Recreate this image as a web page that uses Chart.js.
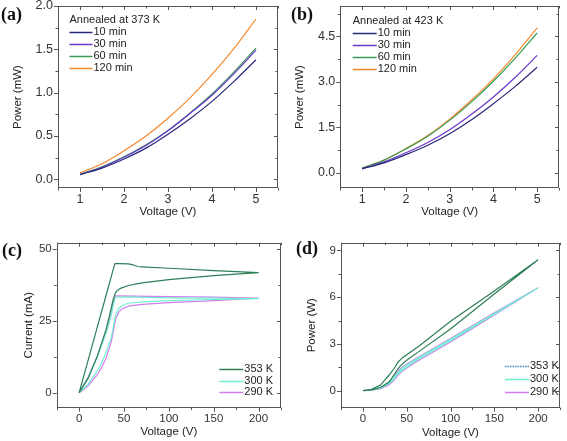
<!DOCTYPE html>
<html>
<head>
<meta charset="utf-8">
<script src="https://cdn.jsdelivr.net/npm/chart.js@4.4.0/dist/chart.umd.min.js"></script>
<style>
  html, body { margin: 0; padding: 0; background: #fff; }
  #page { position: relative; width: 567px; height: 441px; overflow: hidden; }
  canvas { position: absolute; }
  .tag { position: absolute; font: bold 18px "Liberation Serif", "Times New Roman", serif; color: #111; line-height: 1; }
</style>
</head>
<body>
<div id="page">
  <canvas id="ca" width="283" height="222" style="left:0;top:0"></canvas>
  <canvas id="cb" width="284" height="222" style="left:283px;top:0"></canvas>
  <canvas id="cc" width="283" height="219" style="left:0;top:222px"></canvas>
  <canvas id="cd" width="284" height="219" style="left:283px;top:222px"></canvas>
  <div class="tag" style="left:1px;top:5px">(a)</div>
  <div class="tag" style="left:291px;top:5px">(b)</div>
  <div class="tag" style="left:2px;top:241px">(c)</div>
  <div class="tag" style="left:296px;top:239px">(d)</div>
</div>
<script>
// top panels: power vs voltage after annealing
const voltTop = [1, 1.5, 2, 2.5, 3, 3.5, 4, 4.5, 5];
const powA10 = [0.055, 0.13, 0.235, 0.36, 0.52, 0.70, 0.90, 1.13, 1.38];
const powA30 = [0.055, 0.14, 0.255, 0.39, 0.56, 0.76, 0.97, 1.22, 1.49];
const powA60 = [0.058, 0.145, 0.26, 0.40, 0.565, 0.765, 0.985, 1.24, 1.515];
const powA120 = [0.075, 0.18, 0.33, 0.50, 0.705, 0.94, 1.21, 1.51, 1.85];
const powB10 = [0.13, 0.33, 0.60, 0.91, 1.29, 1.75, 2.28, 2.85, 3.48];
const powB30 = [0.14, 0.36, 0.66, 1.00, 1.42, 1.93, 2.50, 3.15, 3.87];
const powB60 = [0.16, 0.42, 0.79, 1.21, 1.73, 2.34, 3.02, 3.78, 4.61];
const powB120 = [0.16, 0.42, 0.80, 1.23, 1.77, 2.40, 3.10, 3.90, 4.78];
const annealLabels = ['10 min', '30 min', '60 min', '120 min'];

// bottom panels: sweep up then back down (hysteresis loops)
const curV353 = [0, 10, 20, 30, 38, 40, 45, 55, 60, 65, 70, 100, 150, 200, 150, 100, 70, 55, 46, 42, 40, 38, 35, 30, 20, 10, 0];
const curI353 = [0, 11.3, 22.6, 33.9, 43, 45, 45, 44.9, 44.6, 44, 43.9, 43.4, 42.6, 41.9, 40.8, 39.4, 38.3, 37.4, 36.4, 35.5, 34.5, 32.5, 28.5, 22, 12.5, 5, 0];
const curV300 = [0, 10, 20, 30, 35, 38, 40, 42, 60, 100, 150, 200, 150, 100, 70, 55, 48, 44, 41, 39, 36, 30, 25, 20, 10, 0];
const curI300 = [0, 5.3, 12.3, 20.8, 26, 30.5, 33, 33.3, 33.3, 33.1, 33, 32.8, 32.5, 32.1, 31.7, 31.2, 30.4, 29.3, 27.5, 24.5, 19.5, 14, 10.3, 7.5, 3, 0];
const curV290 = [0, 10, 20, 30, 35, 38, 40, 42, 60, 100, 150, 200, 150, 100, 70, 55, 48, 44, 41, 39, 36, 30, 25, 20, 10, 0];
const curI290 = [0, 5.5, 12.6, 21.3, 26.5, 31, 33.8, 33.8, 33.7, 33.5, 33.3, 33, 32.1, 31.4, 30.8, 30.2, 29.3, 28, 26, 23, 18, 12, 8.8, 6.2, 2.4, 0];

const powV353 = [0, 10, 20, 30, 36, 40, 45, 50, 65, 100, 150, 200, 150, 100, 65, 50, 43, 40, 36, 30, 20, 10, 0];
const powW353 = [0, 0.08, 0.35, 1.0, 1.45, 1.82, 2.1, 2.3, 2.9, 4.45, 6.4, 8.4, 6.2, 3.95, 2.55, 1.95, 1.6, 1.4, 1.05, 0.55, 0.2, 0.04, 0];
const powV300 = [0, 10, 20, 30, 36, 40, 45, 60, 100, 150, 200, 150, 100, 60, 45, 40, 35, 30, 20, 10, 0];
const powW300 = [0, 0.04, 0.2, 0.55, 0.9, 1.15, 1.45, 2.0, 3.3, 4.95, 6.6, 4.9, 3.2, 1.9, 1.32, 1.05, 0.7, 0.45, 0.15, 0.03, 0];
const powV290 = [0, 10, 20, 30, 36, 40, 45, 60, 100, 150, 200, 150, 100, 60, 45, 40, 35, 30, 20, 10, 0];
const powW290 = [0, 0.04, 0.2, 0.56, 0.95, 1.25, 1.52, 2.05, 3.35, 5.0, 6.6, 4.85, 3.12, 1.82, 1.25, 0.98, 0.62, 0.38, 0.12, 0.02, 0];
const tempLabels = ['353 K', '300 K', '290 K'];

// tick labels
const ticksTopX = [1, 2, 3, 4, 5];
const ticksAY = [0, 0.5, 1, 1.5, 2];
const ticksBY = [0, 1.5, 3, 4.5];
const ticksBotX = [0, 50, 100, 150, 200];
const ticksCY = [0, 25, 50];
const ticksDY = [0, 3, 6, 9];

const annealColors = ['#28287a', '#6a38cc', '#3a9a55', '#f5892e'];
const tempColors = ['#2d7f57', '#6ff0d0', '#d27cf0'];
const FONT = '"Liberation Sans", Arial, sans-serif';

const pairs = (xs, ys) => xs.map((x, i) => ({ x: x, y: ys[i] }));

// box round the plot with ticks on all four sides (out on left/bottom, in on top/right)
const frame = {
  id: 'frame',
  afterDatasetsDraw(chart, args, o) {
    const { ctx, chartArea: a, scales: { x, y } } = chart;
    const isMajor = (v, m) => Math.abs(v / m - Math.round(v / m)) < 1e-6;
    ctx.save();
    ctx.strokeStyle = '#555';
    ctx.lineWidth = 1;
    ctx.strokeRect(Math.round(a.left) + 0.5, Math.round(a.top) + 0.5, Math.round(a.width) - 1, Math.round(a.height) - 1);
    ctx.beginPath();
    for (let v = Math.ceil(x.min / o.xMinor) * o.xMinor; v <= x.max + 1e-9; v += o.xMinor) {
      const px = Math.round(x.getPixelForValue(v)) + 0.5;
      const len = isMajor(v, o.xMajor) ? 4 : 2.5;
      ctx.moveTo(px, a.bottom); ctx.lineTo(px, a.bottom + len);
      ctx.moveTo(px, a.top); ctx.lineTo(px, a.top + len);
    }
    for (let v = Math.ceil(y.min / o.yMinor) * o.yMinor; v <= y.max + 1e-9; v += o.yMinor) {
      const py = Math.round(y.getPixelForValue(v)) + 0.5;
      const len = isMajor(v, o.yMajor) ? 4 : 2.5;
      ctx.moveTo(a.left, py); ctx.lineTo(a.left - len, py);
      ctx.moveTo(a.right, py); ctx.lineTo(a.right - len, py);
    }
    ctx.stroke();
    ctx.restore();
  }
};

// small legend inside the plot area
const miniLegend = {
  id: 'miniLegend',
  afterDraw(chart, args, o) {
    const { ctx, chartArea: a } = chart;
    const x0 = a.left + o.dx;
    let yy = a.top + o.dy;
    ctx.save();
    ctx.font = o.size + 'px ' + FONT;
    ctx.fillStyle = '#222';
    ctx.textBaseline = 'middle';
    if (o.title) {
      ctx.fillText(o.title, x0, yy);
      yy += o.gap;
    }
    chart.data.datasets.forEach(ds => {
      ctx.strokeStyle = ds.legendColor || ds.borderColor;
      ctx.lineWidth = 1.5;
      ctx.setLineDash(ds.legendDash || []);
      ctx.beginPath();
      ctx.moveTo(x0, Math.round(yy) + 0.5);
      ctx.lineTo(x0 + o.line, Math.round(yy) + 0.5);
      ctx.stroke();
      ctx.fillText(ds.label, x0 + o.line + 1, yy);
      yy += o.gap;
    });
    ctx.restore();
  }
};

function makeChart(id, datasets, c) {
  const tickFont = { family: FONT, size: c.tickSize };
  const titleFont = { family: FONT, size: 11.5 };
  return new Chart(document.getElementById(id), {
    type: 'line',
    data: { datasets: datasets },
    options: {
      responsive: false,
      animation: false,
      layout: { padding: c.pad },
      elements: { point: { radius: 0 }, line: { borderWidth: 1.2 } },
      plugins: {
        legend: { display: false },
        tooltip: { enabled: false },
        frame: c.frame,
        miniLegend: c.legend
      },
      scales: {
        x: {
          type: 'linear', min: c.xMin, max: c.xMax,
          afterBuildTicks: s => { s.ticks = c.xTicks.map(v => ({ value: v })); },
          afterFit: s => { s.height = c.xH; s.paddingLeft = 0; s.paddingRight = 0; },
          ticks: { font: tickFont, color: '#333', padding: 4, maxRotation: 0, autoSkip: false, callback: v => String(v) },
          grid: { display: false, drawTicks: false },
          border: { display: false },
          title: { display: true, text: 'Voltage (V)', font: titleFont, color: '#222', padding: { top: 0, bottom: c.xTitlePad } }
        },
        y: {
          type: 'linear', min: c.yMin, max: c.yMax,
          afterBuildTicks: s => { s.ticks = c.yTicks.map(v => ({ value: v })); },
          afterFit: s => { s.width = c.yW; s.paddingTop = 0; s.paddingBottom = 0; },
          ticks: { font: tickFont, color: '#333', padding: 5, autoSkip: false, callback: v => v.toFixed(c.yDec) },
          grid: { display: false, drawTicks: false },
          border: { display: false },
          title: { display: true, text: c.yTitle, font: titleFont, color: '#222', padding: { top: c.yTitlePad, bottom: 0 } }
        }
      }
    },
    plugins: [frame, miniLegend]
  });
}

const lineSets = (vals, xs) => vals.map((ys, i) => ({
  label: annealLabels[i], data: pairs(xs, ys), borderColor: annealColors[i],
  cubicInterpolationMode: 'monotone'
}));

makeChart('ca', lineSets([powA10, powA30, powA60, powA120], voltTop), {
  pad: { left: 0, top: 6, right: 5, bottom: 0 }, yW: 58, xH: 34, tickSize: 12.5,
  xMin: 0.5, xMax: 5.5, yMin: -0.1, yMax: 2.0, xTicks: ticksTopX, yTicks: ticksAY, yDec: 1,
  yTitle: 'Power (mW)', xTitlePad: 3, yTitlePad: 10.5,
  frame: { xMinor: 0.5, xMajor: 1, yMinor: 0.25, yMajor: 0.5 },
  legend: { title: 'Annealed at 373 K', dx: 11.5, dy: 14, gap: 12, line: 23, size: 11 }
});

makeChart('cb', lineSets([powB10, powB30, powB60, powB120], voltTop), {
  pad: { left: 0, top: 6, right: 8, bottom: 0 }, yW: 57.3, xH: 34, tickSize: 12.5,
  xMin: 0.5, xMax: 5.5, yMin: -0.5, yMax: 5.5, xTicks: ticksTopX, yTicks: ticksBY, yDec: 1,
  yTitle: 'Power (mW)', xTitlePad: 3, yTitlePad: 10,
  frame: { xMinor: 0.5, xMajor: 1, yMinor: 0.75, yMajor: 1.5 },
  legend: { title: 'Annealed at 423 K', dx: 12.4, dy: 15, gap: 12, line: 24, size: 11 }
});

const loopSets = (xsList, ysList) => xsList.map((xs, i) => ({
  label: tempLabels[i], data: pairs(xs, ysList[i]), borderColor: tempColors[i], tension: 0
}));

makeChart('cc', loopSets([curV353, curV300, curV290], [curI353, curI300, curI290]), {
  pad: { left: 0, top: 20.7, right: 2, bottom: 0 }, yW: 56.7, xH: 33.3, tickSize: 11.5,
  xMin: -25, xMax: 225, yMin: -5.2, yMax: 52.3, xTicks: ticksBotX, yTicks: ticksCY, yDec: 0,
  yTitle: 'Current (mA)', xTitlePad: 2.2, yTitlePad: 22,
  frame: { xMinor: 25, xMajor: 50, yMinor: 12.5, yMajor: 25 },
  legend: { dx: 162.6, dy: 126.3, gap: 11.5, line: 24, size: 11 }
});

const dSets = loopSets([powV353, powV300, powV290], [powW353, powW300, powW290]);
dSets[0].legendColor = '#4d86b8';
dSets[0].legendDash = [1.5, 1];
makeChart('cd', dSets, {
  pad: { left: 0, top: 20.7, right: 7, bottom: 0 }, yW: 58, xH: 33.3, tickSize: 11.5,
  xMin: -25, xMax: 225, yMin: -1.1, yMax: 9.5, xTicks: ticksBotX, yTicks: ticksDY, yDec: 0,
  yTitle: 'Power (W)', xTitlePad: 1, yTitlePad: 22,
  frame: { xMinor: 25, xMajor: 50, yMinor: 1.5, yMajor: 3 },
  legend: { dx: 164, dy: 123, gap: 13, line: 24, size: 11 }
});
</script>
</body>
</html>
